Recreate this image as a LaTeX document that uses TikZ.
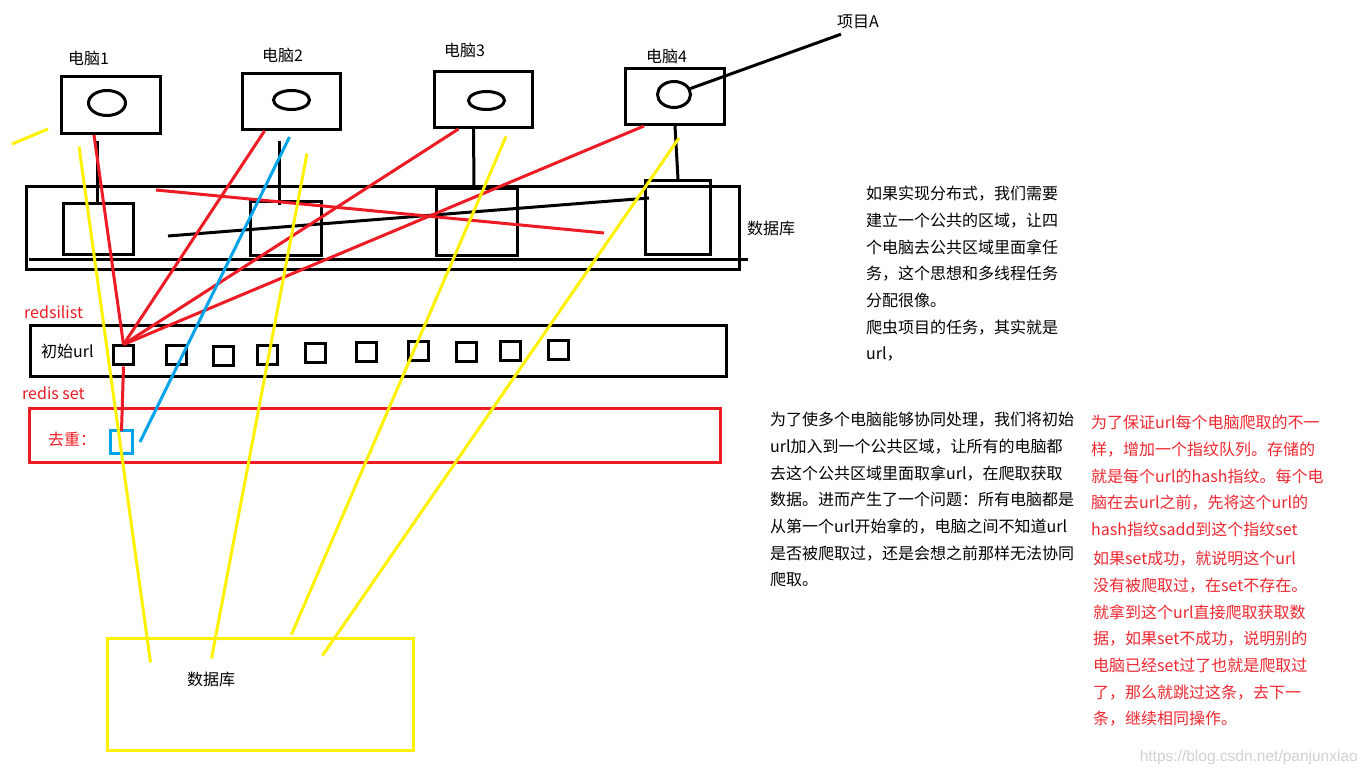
\documentclass[tikz,border=0pt]{standalone}
\usepackage{fontspec}
\setmainfont{Noto Sans CJK SC}
\newfontfamily\markfont{Liberation Sans}
\usetikzlibrary{positioning,shapes.geometric}
\definecolor{paintred}{RGB}{237,28,36}
\definecolor{paintyellow}{RGB}{255,242,0}
\definecolor{paintblue}{RGB}{0,162,232}
\definecolor{notered}{RGB}{240,40,48}
\tikzset{
  every node/.style={
    inner sep=0pt
  },
  pcbox/.style={draw, line width=3pt},
  screen/.style={draw, ellipse, line width=3pt},
  slot/.style={draw, line width=3pt, minimum width=20pt, minimum height=19pt},
  lbl/.style={anchor=west, font=\fontsize{16}{20}\selectfont},
  notetext/.style={anchor=north west, align=left, font=\fontsize{16}{26.7}\selectfont},
  inkline/.style={line width=3pt},
  redline/.style={paintred, line width=3pt},
  yellowline/.style={paintyellow, line width=3pt},
  blueline/.style={paintblue, line width=3pt}
}

\begin{document}
\begin{tikzpicture}[x=1pt,y=-1pt]
        \fill [white] (0,0) rectangle (1368,775);
        \useasboundingbox (0,0) rectangle (1368,775);

        \node [pcbox, minimum width=99pt, minimum height=57pt] (pc1) at (111,105) {};
        \node [pcbox, minimum width=98pt, minimum height=56pt] (pc2) at (291.5,101.5) {};
        \node [pcbox, minimum width=98pt, minimum height=56pt] (pc3) at (483.5,99.5) {};
        \node [pcbox, minimum width=99pt, minimum height=56pt] (pc4) at (675,96.5) {};
        \node [screen, on grid, above left=2pt and 4pt of pc1, minimum width=37pt, minimum height=25pt] (e1) {};
        \node [screen, on grid, above=1.5pt of pc2, minimum width=36pt, minimum height=19pt] (e2) {};
        \node [screen, on grid, below right=1pt and 3pt of pc3, minimum width=36pt, minimum height=18pt] (e3) {};
        \node [screen, on grid, above left=2pt and 1pt of pc4, minimum width=33pt, minimum height=26pt] (e4) {};
        \node [lbl] (pcl1) at (68,58) {电脑1};
        \node [lbl] (pcl2) at (262,55) {电脑2};
        \node [lbl] (pcl3) at (444,50) {电脑3};
        \node [lbl] (pcl4) at (646,56) {电脑4};
        \node [lbl] (proj) at (837,22) {项目A};
        \draw [inkline] ([shift={(4,5)}]proj.south west) to (e4.20);

        \node [pcbox, minimum width=713pt, minimum height=83pt] (db) at (383,228) {};
        \node [pcbox, minimum width=70pt, minimum height=51pt] (t1) at (98.5,229) {};
        \node [pcbox, minimum width=71pt, minimum height=54pt] (t2) at (286,228.5) {};
        \node [pcbox, minimum width=81pt, minimum height=67pt] (t3) at (477,222) {};
        \node [pcbox, minimum width=65pt, minimum height=74pt] (t4) at (678,217.5) {};
        \node [lbl] (dbl) at (747,228) {数据库};
        \draw [inkline] ([shift={(4,-11)}]db.south west) to ([shift={(7,-11)}]db.south east);
        \draw [inkline] ([xshift=-1.5pt]t1.north) to ++(0,-61);
        \draw [inkline] ([shift={(-7,5)}]t2.north) to ++(0,-64);
        \draw [inkline] ([xshift=-10pt]pc3.south) to ([xshift=-3pt]t3.north);
        \draw [inkline] (pc4.south) to (t4.north);
        \coordinate (cross1) at (168,236);
        \coordinate (cross2) at (649,198);
        \draw [inkline] (cross1) to (cross2);
        \coordinate (cross3) at (156,190);
        \coordinate (cross4) at (604,233);
        \draw [redline] (cross3) to (cross4);

        \node [pcbox, minimum width=696pt, minimum height=51pt] (urls) at (378.5,351) {};
        \node [lbl, text=paintred] (urlsl) at (24,312) {redsilist};
        \node [lbl] (first) at (41,351) {初始url};
        \foreach \i/\x/\y in {1/123.5/355.5, 2/176/355.5, 3/223.5/356, 4/267/355, 5/315/353.5, 6/366/352, 7/418.5/351.5, 8/466/352, 9/510/351, 10/558/350}
          \node [slot] (s\i) at (\x,\y) {};

        \node [draw=paintred, line width=3pt, minimum width=691pt, minimum height=54pt] (setbox) at (375,435.5) {};
        \node [lbl, text=paintred] (setl) at (22,393) {redis set};
        \node [lbl, text=paintred] (dupl) at (48,439) {去重：};
        \node [draw=paintblue, line width=3pt, minimum width=22pt, minimum height=23pt] (dup) at (121.5,442) {};

        \node [draw=paintyellow, line width=3pt, minimum width=306pt, minimum height=112pt] (ydb) at (260.5,694.5) {};
        \node [lbl] (ydbl) at (187,679) {数据库};

        \draw [redline] ([xshift=-17pt]pc1.south) to (s1.north);
        \draw [redline] ([xshift=-27pt]pc2.south) to (s1.north);
        \draw [redline] ([xshift=-25pt]pc3.south) to (s1.north);
        \draw [redline] ([xshift=-31pt]pc4.south) to (s1.north);
        \draw [redline] (s1.south) to ([yshift=-2pt]dup.north);
        \draw [blueline] ([shift={(-2,6)}]pc2.south) to ([xshift=6pt]dup.east);

        \coordinate (dash1) at (12,144);
        \coordinate (dash2) at (48,129);
        \draw [yellowline] (dash1) to (dash2);
        \draw [yellowline] ([shift={(-32,11.5)}]pc1.south) to ([shift={(44.5,25.5)}]ydb.north west);
        \draw [yellowline] ([shift={(15.5,22.5)}]pc2.south) to ([shift={(105.5,21.5)}]ydb.north west);
        \draw [yellowline] ([shift={(22.5,7.5)}]pc3.south) to ([shift={(185.5,-2.5)}]ydb.north west);
        \draw [yellowline] ([shift={(4,12)}]pc4.south) to ([shift={(216.5,18.5)}]ydb.north west);

        \node [notetext] (idea) at (866,186) {如果实现分布式，我们需要\\建立一个公共的区域，让四\\个电脑去公共区域里面拿任\\务，这个思想和多线程任务\\分配很像。\\爬虫项目的任务，其实就是\\url，};
        \node [notetext] (problem) at (770,412) {为了使多个电脑能够协同处理，我们将初始\\url加入到一个公共区域，让所有的电脑都\\去这个公共区域里面取拿url，在爬取获取\\数据。进而产生了一个问题：所有电脑都是\\从第一个url开始拿的，电脑之间不知道url\\是否被爬取过，还是会想之前那样无法协同\\爬取。};
        \node [notetext, text=notered] (finger) at (1091,415) {为了保证url每个电脑爬取的不一\\样，增加一个指纹队列。存储的\\就是每个url的hash指纹。每个电\\脑在去url之前，先将这个url的\\hash指纹sadd到这个指纹set};
        \node [notetext, text=notered] (sadd) at (1093,551) {如果set成功，就说明这个url\\没有被爬取过，在set不存在。\\就拿到这个url直接爬取获取数\\据，如果set不成功，说明别的\\电脑已经set过了也就是爬取过\\了，那么就跳过这条，去下一\\条，继续相同操作。};

        \node [anchor=east, text=black!18, font=\markfont\fontsize{15.5}{20}\selectfont] (mark) at (1358,757) {https://blog.csdn.net/panjunxiao};
      \end{tikzpicture}
\end{document}
